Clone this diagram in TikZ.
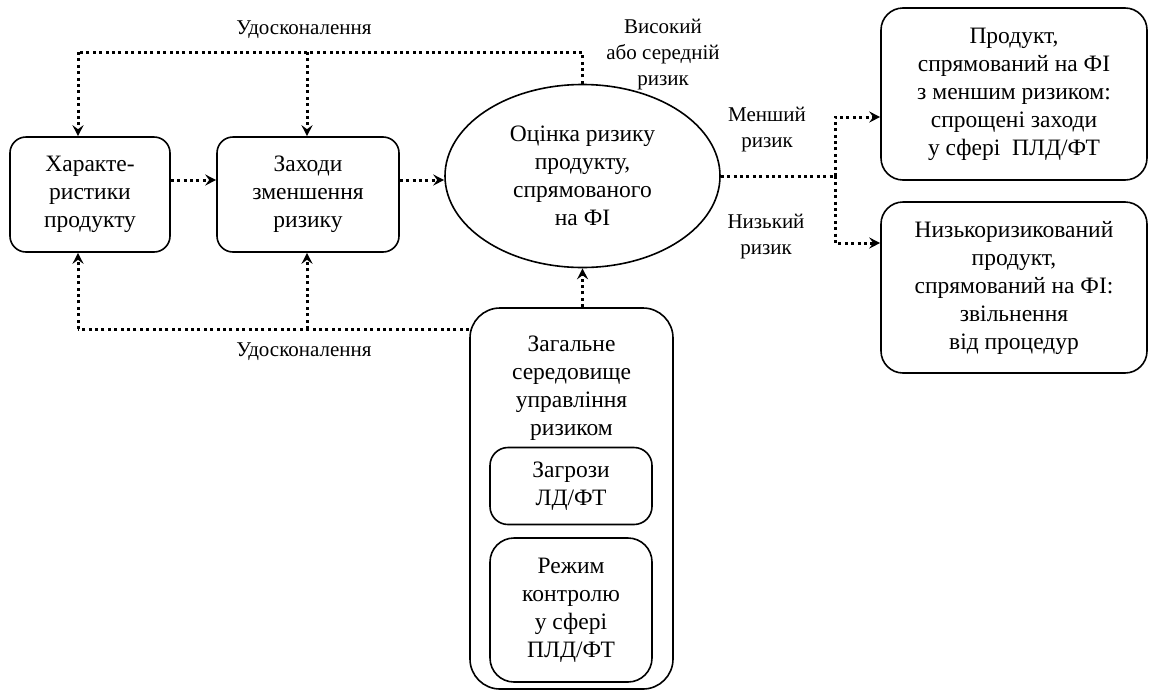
\documentclass[tikz,border=0pt]{standalone}
\usepackage{fontspec}
\setmainfont{Liberation Serif}
\usetikzlibrary{shapes.geometric,arrows.meta}
\begin{document}
\begin{tikzpicture}[x=1pt,y=-1pt,
  txt/.style={font=\fontsize{23.5}{28}\selectfont, align=center, inner sep=0pt},
  lbl/.style={font=\fontsize{21}{26}\selectfont, align=center, inner sep=0pt},
  rbox/.style={txt, draw, line width=1.6pt, rounded corners=16pt},
  dl/.style={line width=3pt, dash pattern=on 3pt off 3.4pt},
  arr/.style={-{Stealth[length=11pt,width=11pt,inset=4pt]}}
]
\useasboundingbox (0,0) rectangle (1150,691);
% main nodes
\node[rbox, minimum width=160pt, minimum height=115pt] (box1) at (90,194.5) {Характе-\\ристики\\продукту};
\node[rbox, minimum width=182pt, minimum height=115pt] (box2) at (308,194.5) {Заходи\\зменшення\\ризику};
\node[txt, draw, line width=1.6pt, ellipse, minimum width=275pt, minimum height=183pt] (ell) at (582.5,176) {Оцінка ризику\\продукту,\\спрямованого\\на ФІ};
\node[rbox, rounded corners=22pt, minimum width=266pt, minimum height=172pt] (box3) at (1014,94) {Продукт,\\спрямований на ФІ\\з меншим ризиком:\\спрощені заходи\\у сфері\ \ ПЛД/ФТ};
\node[rbox, rounded corners=22pt, minimum width=266pt, minimum height=171pt] (box4) at (1014,287.5) {Низькоризикований\\продукт,\\спрямований на ФІ:\\звільнення\\від процедур};
\node[draw, line width=1.6pt, rounded corners=30pt, minimum width=203pt, minimum height=381pt, inner sep=0pt] (big) at (571.5,498.5) {};
\node[txt] (bigtxt) at (571.5,388) {Загальне\\середовище\\управління\\ризиком};
\node[rbox, rounded corners=18pt, minimum width=162pt, minimum height=77pt] (in1) at (571,486) {Загрози\\ЛД/ФТ};
\node[rbox, rounded corners=24pt, minimum width=162pt, minimum height=144pt] (in2) at (571,610) {Режим\\контролю\\у сфері\\ПЛД/ФТ};
% labels
\node[lbl] (ltop) at (304,30) {Удосконалення};
\node[lbl] (lbot) at (304,352) {Удосконалення};
\node[lbl] (lhigh) at (663,55) {Високий\\або середній\\ризик};
\node[lbl] (lless) at (767,130) {Менший\\ризик};
\node[lbl] (llow) at (766,237) {Низький\\ризик};
% helper coordinates
\coordinate (h) at (0,180);
\coordinate (tl) at (78,52);
\coordinate (tm) at (307,52);
\coordinate (bl) at (78,329);
\coordinate (bm) at (307,329);
\coordinate (br) at (835,176);
\coordinate (y3) at (0,117);
\coordinate (y4) at (0,243);
% top feedback loop
\draw[dl] (ell.north) |- (tl);
\draw[dl,arr] (tl) -- (tl |- box1.north);
\draw[dl,arr] (tm) -- (tm |- box2.north);
% bottom feedback loop
\draw[dl] (big.west |- bl) -- (bl);
\draw[dl,arr] (bl) -- (bl |- box1.south);
\draw[dl,arr] (bm) -- (bm |- box2.south);
% big box to ellipse
\draw[dl,arr] (ell.south |- big.north) -- (ell.south);
% horizontal flow
\draw[dl,arr] (box1.east |- h) -- (box2.west |- h);
\draw[dl,arr] (box2.east |- h) -- (ell.west |- h);
% right branches
\draw[dl] (ell.east) -- (br);
\draw[dl,arr] (br) |- (box3.west |- y3);
\draw[dl,arr] (br) |- (box4.west |- y4);
\end{tikzpicture}
\end{document}
